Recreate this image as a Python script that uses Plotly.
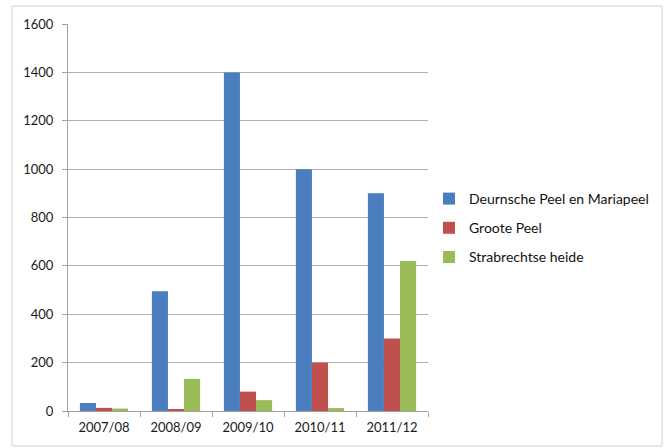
import plotly.graph_objects as go

categories = ["2007/08", "2008/09", "2009/10", "2010/11", "2011/12"]
deurnsche = [33, 495, 1400, 1000, 900]
groote = [13, 8, 80, 200, 300]
strabrechtse = [10, 133, 45, 12, 620]
series_names = ["Deurnsche Peel en Mariapeel", "Groote Peel", "Strabrechtse heide"]
colors = ["#4A7EBF", "#C0504D", "#9BBB59"]

fig = go.Figure()
for i, (name, vals, c) in enumerate(zip(series_names, [deurnsche, groote, strabrechtse], colors)):
    fig.add_trace(go.Bar(x=categories, y=vals, name=name, marker_color=c,
                         marker_line_width=0, legendgroup="g%d" % i))

W, H = 668, 448
L, R, T, B = 68, 240, 24, 37
pw, ph = W - L - R, H - T - B

def px(x):
    return (x - L) / pw

def py(y):
    return (H - B - y) / ph

fig.update_layout(
    width=W, height=H,
    margin=dict(l=L, r=R, t=T, b=B),
    paper_bgcolor="white", plot_bgcolor="white",
    barmode="group", bargap=0.33, bargroupgap=0,
    font=dict(family="Lato, Open Sans, sans-serif", size=13, color="#1a1a1a"),
    showlegend=True,
    legend=dict(x=px(429), y=py(228), xanchor="left", yanchor="middle",
                font=dict(size=14, color="#111111"), itemwidth=30, tracegroupgap=8,
                bgcolor="rgba(0,0,0,0)"),
    xaxis=dict(showline=True, linecolor="#a0a0a0", linewidth=1, ticks="outside",
               tickson="boundaries", ticklen=5, tickcolor="#a0a0a0",
               showgrid=False, tickfont=dict(size=13), ticklabelstandoff=4),
    yaxis=dict(range=[0, 1600], dtick=200, showline=True, linecolor="#a0a0a0",
               linewidth=1, ticks="outside", ticklen=5, tickcolor="#a0a0a0",
               showgrid=True, gridcolor="#b5aeae", gridwidth=1, zeroline=False,
               tickfont=dict(size=13), ticklabelstandoff=6),
    shapes=[dict(type="rect", xref="paper", yref="paper",
                 x0=px(12), x1=px(662), y0=py(446), y1=py(6),
                 line=dict(color="#d0d0d0", width=1), layer="below")],
)

fig.write_html("out.html", config={"displayModeBar": False},
               post_script="document.body.style.margin='0';")
